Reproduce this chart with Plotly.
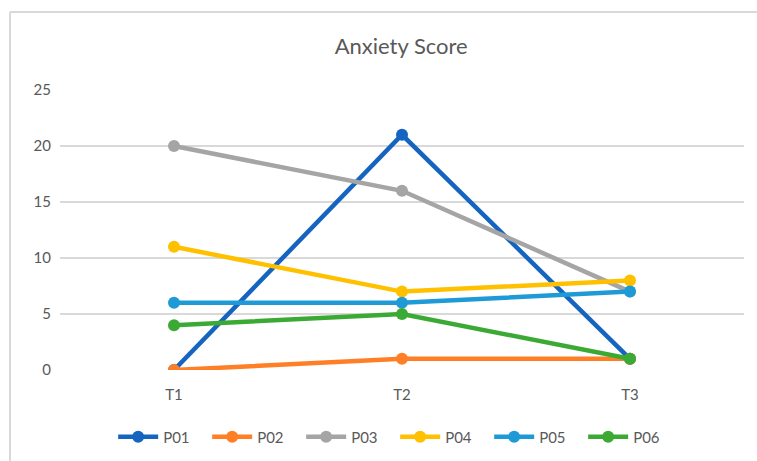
import plotly.graph_objects as go

# Anxiety scores per participant at three time points
timepoints = ["T1", "T2", "T3"]
participants = ["P01", "P02", "P03", "P04", "P05", "P06"]
p01 = [0, 21, 1]
p02 = [0, 1, 1]
p03 = [20, 16, 7]
p04 = [11, 7, 8]
p05 = [6, 6, 7]
p06 = [4, 5, 1]
series = [p01, p02, p03, p04, p05, p06]
colors = ["#1565C0", "#FF7F27", "#A5A5A5", "#FFC000", "#1E9BD7", "#3BAA35"]

y_ticks = [0, 5, 10, 15, 20, 25]

font_family = "Lato, 'Open Sans', sans-serif"
text_color = "#595959"

fig = go.Figure()
for name, values, color in zip(participants, series, colors):
    fig.add_trace(go.Scatter(
        x=timepoints, y=values, name=name,
        mode="lines+markers",
        line=dict(color=color, width=4.5),
        marker=dict(color=color, size=12, line=dict(width=0)),
    ))

# chart frame (top and left edges)
frame = dict(color="#D9D9D9", width=2)
fig.add_shape(type="line", xref="paper", yref="paper",
              x0=-0.0731, x1=1.02, y0=1.2786, y1=1.2786, line=frame)
fig.add_shape(type="line", xref="paper", yref="paper",
              x0=-0.0731, x1=-0.0731, y0=1.2786, y1=-0.33, line=frame)

fig.update_layout(
    width=757, height=461,
    margin=dict(l=60, r=13, t=90, b=91),
    paper_bgcolor="white", plot_bgcolor="white",
    font=dict(family=font_family, color=text_color, size=15),
    title=dict(text="Anxiety Score", x=0.53, xanchor="center",
               y=1 - 46 / 461, yanchor="middle",
               font=dict(size=22, color=text_color, family=font_family)),
    xaxis=dict(showgrid=False, zeroline=False, showline=False,
               range=[-0.5, 2.5], ticks="", ticklabelstandoff=14,
               tickfont=dict(size=15, color=text_color)),
    yaxis=dict(range=[0, 25], tickvals=y_ticks, showgrid=True,
               gridcolor="#D9D9D9", gridwidth=1.5, zeroline=False,
               showline=False, ticks="", ticklabelstandoff=8,
               tickfont=dict(size=15, color=text_color)),
    legend=dict(orientation="h", x=0.49, xanchor="center",
                yref="container", y=1 - 437 / 461, yanchor="middle",
                entrywidth=39, entrywidthmode="pixels",
                font=dict(size=15, color=text_color),
                itemwidth=40),
    showlegend=True,
)

fig.write_html("out.html")
